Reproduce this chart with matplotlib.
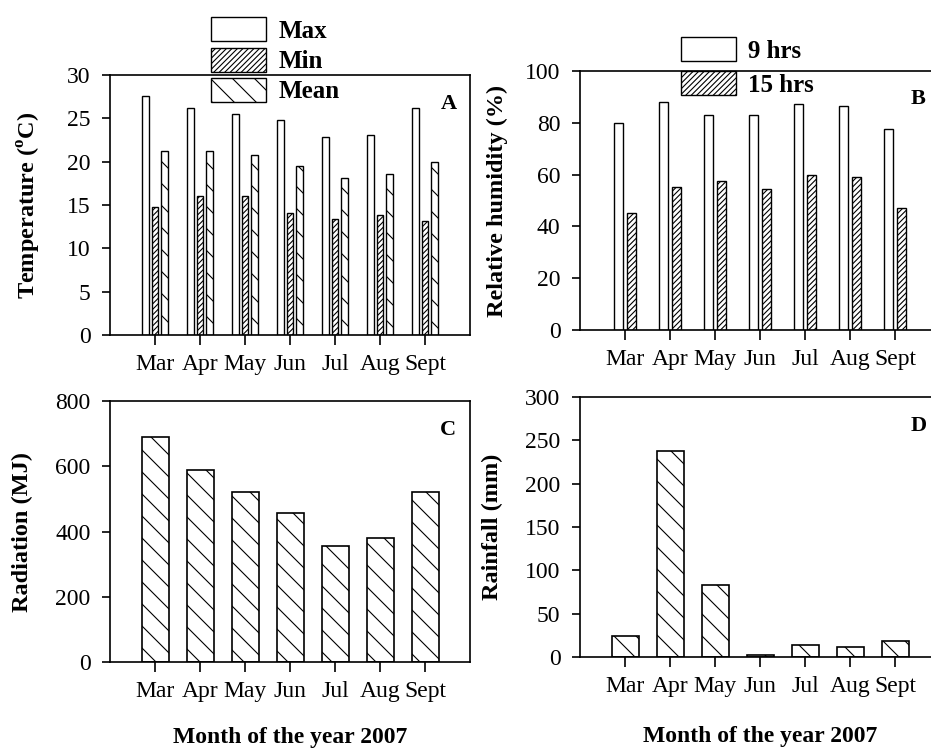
import matplotlib
matplotlib.use("Agg")
import matplotlib.pyplot as plt
import numpy as np

# Low dpi so that a single hatch stroke gets the wide spacing of the
# reference; every size in points is scaled up by S to compensate.
DPI = 66.5
S = 100 / DPI

plt.rcParams["font.family"] = ["Liberation Serif", "DejaVu Serif"]
plt.rcParams["mathtext.fontset"] = "custom"
plt.rcParams["mathtext.rm"] = "Liberation Serif:bold"
plt.rcParams["mathtext.bf"] = "Liberation Serif:bold"
plt.rcParams["hatch.linewidth"] = 0.8 * S

# Data.
months = ["Mar", "Apr", "May", "Jun", "Jul", "Aug", "Sept"]

temp_max = [27.6, 26.2, 25.5, 24.8, 22.9, 23.1, 26.2]
temp_min = [14.8, 16.0, 16.0, 14.1, 13.4, 13.9, 13.2]
temp_mean = [21.2, 21.2, 20.8, 19.5, 18.1, 18.6, 20.0]

rh_9hrs = [80.0, 88.0, 83.1, 83.0, 87.1, 86.3, 77.7]
rh_15hrs = [45.0, 55.4, 57.4, 54.5, 60.0, 59.2, 47.1]

radiation = [690, 590, 520, 457, 355, 380, 520]
rainfall = [24.5, 238, 83, 2.5, 14, 12, 19]

W, H = 931, 751
TICK_FS = 17 * S
LABEL_FS = 17.5 * S


def make_axes(fig, left, top, bottom, width=360):
    """Axes placed by pixel edges of the reference."""
    return fig.add_axes([left / W, (H - bottom) / H, width / W,
        (bottom - top) / H])


def style_axes(ax, ylim, yticks, letter):
    x = np.arange(len(months))
    ax.set_xlim(-1, len(months))
    ax.set_ylim(*ylim)
    ax.set_yticks(yticks)
    ax.set_xticks(x)
    ax.set_xticklabels(months)
    ax.tick_params(axis="y", direction="out", length=6 * S, width=1.2 * S,
        labelsize=TICK_FS, pad=8 * S)
    ax.tick_params(axis="x", direction="out", length=7 * S, width=1.2 * S,
        labelsize=TICK_FS, pad=7 * S)
    for spine in ax.spines.values():
        spine.set_linewidth(1.2 * S)
    ax.text(0.94, 0.89, letter, transform=ax.transAxes, ha="center",
        va="center", fontsize=16 * S, fontweight="bold")


def bars(ax, xs, values, width, hatch=None, label=None, lw=1.0):
    return ax.bar(xs, values, width, color="white", edgecolor="black",
        linewidth=lw * S, hatch=hatch, label=label)


def add_legend(ax, left_px, top_px, spacing):
    ax.legend(loc="upper left", bbox_to_anchor=(left_px / W, 1 - top_px / H),
        bbox_transform=ax.figure.transFigure, frameon=False, borderpad=0,
        borderaxespad=0, handlelength=2.2, handleheight=1.1,
        handletextpad=0.5, labelspacing=spacing,
        prop={"weight": "bold", "size": 18 * S})


fig = plt.figure(figsize=(W / DPI, H / DPI), dpi=DPI)
x = np.arange(len(months))

# Panel A - temperature.
ax_a = make_axes(fig, 110, 75, 335)
bars(ax_a, x - 0.21, temp_max, 0.14, label="Max")
bars(ax_a, x, temp_min, 0.14, hatch="////", label="Min")
bars(ax_a, x + 0.21, temp_mean, 0.14, hatch="\\", label="Mean")
style_axes(ax_a, (0, 30), np.arange(0, 31, 5), "A")
ax_a.set_ylabel(r"Temperature ($^{\mathbf{o}}$C)", fontsize=LABEL_FS,
    fontweight="bold")
ax_a.yaxis.set_label_coords(-0.185, 0.5)
add_legend(ax_a, 211, 17, 0.2)

# Panel B - relative humidity.
ax_b = make_axes(fig, 580, 71, 330)
bars(ax_b, x - 0.155, rh_9hrs, 0.2, label="9 hrs")
bars(ax_b, x + 0.155, rh_15hrs, 0.2, hatch="////", label="15 hrs")
style_axes(ax_b, (0, 100), np.arange(0, 101, 20), "B")
ax_b.set_ylabel("Relative humidity (%)", fontsize=LABEL_FS,
    fontweight="bold")
ax_b.yaxis.set_label_coords(-0.2, 0.5)
add_legend(ax_b, 681, 37, 0.35)

# Panel C - radiation.
ax_c = make_axes(fig, 110, 401, 662)
bars(ax_c, x, radiation, 0.6, hatch="\\", lw=1.2)
style_axes(ax_c, (0, 800), np.arange(0, 801, 200), "C")
ax_c.set_ylabel("Radiation (MJ)", fontsize=LABEL_FS, fontweight="bold")
ax_c.yaxis.set_label_coords(-0.215, 0.5)
ax_c.set_xlabel("Month of the year 2007", fontsize=17 * S,
    fontweight="bold")
ax_c.xaxis.set_label_coords(0.5, -0.25)

# Panel D - rainfall.
ax_d = make_axes(fig, 580, 397, 657)
bars(ax_d, x, rainfall, 0.6, hatch="\\", lw=1.2)
style_axes(ax_d, (0, 300), np.arange(0, 301, 50), "D")
ax_d.set_ylabel("Rainfall (mm)", fontsize=LABEL_FS, fontweight="bold")
ax_d.yaxis.set_label_coords(-0.215, 0.5)
ax_d.set_xlabel("Month of the year 2007", fontsize=17 * S,
    fontweight="bold")
ax_d.xaxis.set_label_coords(0.5, -0.265)

fig.savefig("out.png", dpi=DPI)
